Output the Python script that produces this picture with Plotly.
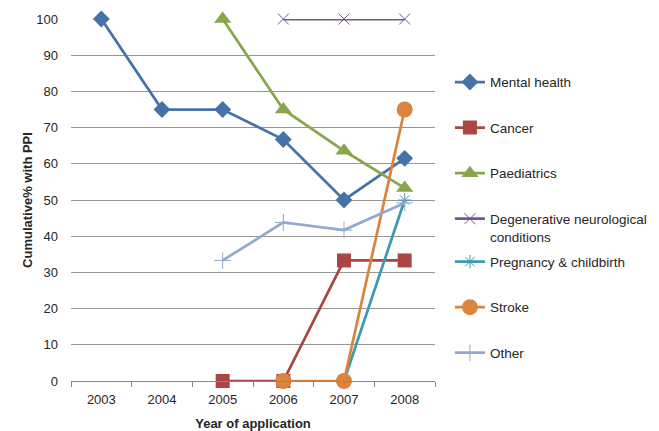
import plotly.graph_objects as go

years = ["2003", "2004", "2005", "2006", "2007", "2008"]

mental_health = [100, 75, 75, 66.7, 50, 61.5]
cancer = [None, None, 0, 0, 33.3, 33.3]
paediatrics = [None, None, 100, 75, 63.6, 53.3]
degenerative = [None, None, None, 100, 100, 100]
pregnancy = [None, None, None, None, 0, 50]
stroke = [None, None, None, 0, 0, 75]
other = [None, None, 33.3, 43.8, 41.7, 49.2]

y_ticks = [0, 10, 20, 30, 40, 50, 60, 70, 80, 90, 100]

series = [
    ("Mental health", mental_health, "#4572A7", "diamond", 13, "legend"),
    ("Cancer", cancer, "#AA4643", "square", 14, "legend"),
    ("Paediatrics", paediatrics, "#89A54E", "triangle-up", 15, "legend"),
    ("Degenerative neurological<br>conditions", degenerative, "#71588F", "x-thin", 11, "legend"),
    ("Pregnancy &amp; childbirth", pregnancy, "#4198AF", "asterisk", 11, "legend2"),
    ("Stroke", stroke, "#DB843D", "circle", 16, "legend2"),
    ("Other", other, "#93A9CF", "cross-thin", 12, "legend2"),
]

fig = go.Figure()
for i, (name, vals, color, sym, size, lg) in enumerate(series):
    thin = sym in ("x-thin", "asterisk", "cross-thin")
    fig.add_trace(go.Scatter(
        x=years, y=vals, name=name, mode="lines+markers",
        line=dict(color=color, width=2.75),
        marker=dict(symbol=sym, size=size, color=color,
                    line=dict(color=color, width=1 if thin else 0)),
        legend=lg, legendgroup=f"g{i}", connectgaps=False, cliponaxis=False,
    ))

font_family = "Liberation Sans, Arial, sans-serif"

fig.update_layout(
    width=651, height=423,
    margin=dict(l=63, r=224, t=10.5, b=50, autoexpand=False),
    paper_bgcolor="white", plot_bgcolor="white",
    font=dict(family=font_family, size=13, color="#262626"),
    xaxis=dict(
        type="category", range=[-0.5, 5.5], automargin=False,
        showgrid=False, showline=True, linecolor="#868686", linewidth=1,
        ticks="outside", tickson="boundaries", ticklen=5, tickcolor="#868686",
        tickfont=dict(size=13), ticklabelstandoff=6,
        title=dict(text="<b>Year of application</b>", font=dict(size=13), standoff=14),
    ),
    yaxis=dict(
        range=[0, 100], tickvals=y_ticks, showgrid=True, gridcolor="#969696", gridwidth=1,
        zeroline=False, showline=False, ticks="", tickfont=dict(size=13),
        ticklabelstandoff=12, automargin=False,
        title=dict(text="<b>Cumulative% with PPI</b>", font=dict(size=13), standoff=0),
    ),
    legend=dict(x=1.041, y=0.868, xanchor="left", yanchor="top",
                tracegroupgap=25, font=dict(size=13.5), valign="top",
                bgcolor="rgba(0,0,0,0)"),
    legend2=dict(x=1.041, y=0.372, xanchor="left", yanchor="top",
                 tracegroupgap=25, font=dict(size=13.5), valign="top",
                 bgcolor="rgba(0,0,0,0)"),
)

fig.write_html("out.html")
